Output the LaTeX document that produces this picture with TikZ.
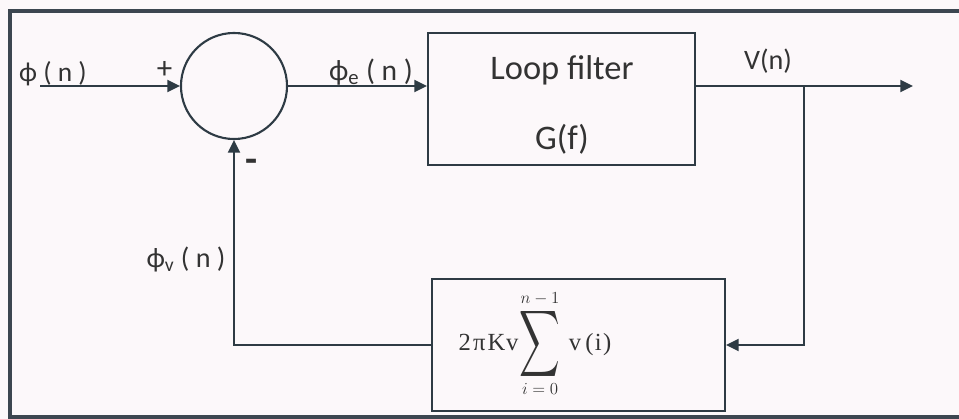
\documentclass[tikz,border=0pt]{standalone}
\usepackage[no-math]{fontspec}
\setmainfont{Carlito}
\newfontfamily\formfont{Liberation Serif}
\usepackage{graphicx}
\usetikzlibrary{arrows.meta,positioning}
\definecolor{linecol}{HTML}{2E3B44}
\definecolor{textcol}{HTML}{333333}
\definecolor{framecol}{HTML}{3C4650}
\definecolor{papercol}{HTML}{FCF8FA}
\tikzset{
  sig/.style={line width=1.5pt, draw=linecol, -{Triangle[length=9pt,width=8.5pt]}},
  sumnode/.style={circle, draw=linecol, line width=1.5pt, minimum size=2.65cm, inner sep=0pt},
  blockbox/.style={rectangle, draw=linecol, line width=1.3pt, minimum width=#1, minimum height=3.3cm, inner sep=0pt},
  lbl/.style={text=textcol, inner sep=0pt},
}
\begin{document}
\begin{tikzpicture}[x=0.025cm, y=-0.025cm]
  % paper and frame
  \fill[papercol] (0,0) rectangle (959,419);
  \useasboundingbox (0,0) rectangle (959,419);
  \draw[framecol, line width=2.2pt] (959,11) -- (10,11) -- (10,419);
  \draw[framecol, line width=2.2pt] (10,417) -- (959,417);

  % blocks
  \node[sumnode] (sum) at (234,86) {};
  \node[blockbox=6.675cm] (filt) at (561.5,99) {};
  \node[blockbox=7.325cm] (acc) at (578.5,345) {};

  % texts in the blocks
  \node[lbl, font=\fontsize{24.5}{28}\selectfont] (filtname) at (562,70) {Loop filter};
  \node[lbl, font=\fontsize{24.5}{28}\selectfont] (filtfun) at (562,139) {G(f)};
  \node[lbl, anchor=base, font=\fontsize{17.5}{20}\selectfont] (accfun) at (535,350)
    {{\formfont 2\kern1.5pt π\kern1.5pt K\kern0.5pt v}\kern1pt$\mathop{\vcenter{\hbox{\scalebox{2}[3.3]{$\displaystyle\sum$}}}}\limits_{\hbox{\fontsize{13}{15}\selectfont$i=0$}}^{\hbox{\fontsize{13}{15}\selectfont$n-1$}}$\kern6pt{\formfont v\kern3pt(\kern1pt i\kern1pt)}};

  % signal labels
  \node[lbl, font=\fontsize{19.5}{23}\selectfont] (inlbl) at (53,74) {ϕ ( n )};
  \node[lbl, font=\fontsize{22}{25}\selectfont] (plus) at (164.5,69.5) {+};
  \node[lbl, font=\fontsize{28}{30}\selectfont\bfseries] (minus) at (252,166) {-};
  \node[lbl, font=\fontsize{21}{24}\selectfont] (errlbl) at (371,72) {ϕ\textsubscript{e} ( n )};
  \node[lbl, font=\fontsize{20}{23}\selectfont] (vlbl) at (768,61) {V(n)};
  \node[lbl, font=\fontsize{20}{23}\selectfont] (fblbl) at (186,259) {ϕ\textsubscript{v} ( n )};

  % connectors
  \coordinate (src) at (40,86);
  \coordinate (dst) at (913,86);
  \coordinate (tap) at (804,86);
  \draw[sig] (src) -- (sum.west);
  \draw[sig] (sum.east) -- (filt.west |- sum.east);
  \draw[sig] (filt.east |- sum.east) -- (dst);
  \draw[sig] (tap) |- (acc.east);
  \draw[sig] (acc.west) -| (sum.south);
\end{tikzpicture}
\end{document}
